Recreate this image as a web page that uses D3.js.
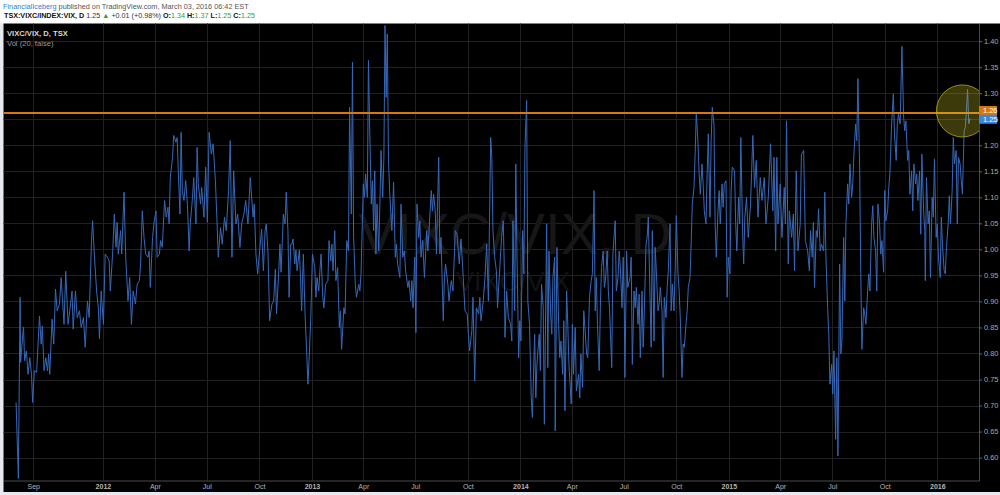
<!DOCTYPE html>
<html><head><meta charset="utf-8">
<script src="https://cdn.jsdelivr.net/npm/d3@7"></script>
<style>
html,body{margin:0;padding:0;background:#fff;}
svg{display:block;font-family:"Liberation Sans",Arial,sans-serif;}
</style>
</head><body>
<svg id="chart" width="1000" height="495"></svg>
<script>
// ---- DATA (day offsets counted from BASE_DATE, ratio value VIXC/VIX) ----
const BASE_DATE = "2012-01-01";
const ser2011 = [[-152,0.706],[-148,0.560],[-145,0.908],[-144,0.783],[-142,0.812],[-139,0.851],[-137,0.786],[-134,0.805],[-131,0.760],[-128,0.792],[-125,0.760],[-123,0.706],[-120,0.767],[-116,0.764],[-111,0.872],[-108,0.818],[-106,0.853],[-103,0.767],[-100,0.792],[-97,0.767],[-95,0.799],[-93,0.760],[-89,0.866],[-86,0.818],[-83,0.924],[-80,0.882],[-76,0.895],[-73,0.946],[-71,0.908],[-68,0.856],[-65,0.958],[-61,0.856],[-58,0.882],[-54,0.920],[-52,0.847],[-48,0.920],[-45,0.869],[-41,0.882],[-38,0.850],[-34,0.869],[-31,0.812],[-27,0.901],[-24,0.869],[-20,1.015],[-18,1.055],[-15,0.991],[-11,0.920],[-8,0.888],[-6,0.828],[-3,0.920]];
const ser2012 = [[1,0.856],[4,0.991],[8,0.985],[11,0.978],[13,0.920],[17,0.991],[20,1.068],[23,1.004],[25,1.052],[27,0.991],[31,1.036],[33,0.991],[37,1.110],[40,0.985],[44,0.901],[47,0.946],[50,0.856],[53,0.920],[57,0.895],[60,0.933],[64,0.940],[66,0.972],[69,1.074],[72,1.023],[75,0.991],[79,0.985],[81,0.997],[83,0.927],[87,1.023],[90,1.055],[93,1.074],[95,0.985],[99,0.991],[101,1.017],[104,1.004],[108,1.094],[111,1.062],[114,1.081],[116,1.049],[118,1.138],[122,1.177],[124,1.219],[128,1.206],[130,1.215],[132,1.151],[135,1.068],[137,1.225],[139,1.113],[142,1.094],[145,1.132],[148,1.087],[151,0.997],[153,1.049],[157,1.100],[159,1.138],[163,1.049],[165,1.196],[167,1.126],[171,1.087],[173,1.119],[177,1.062],[180,1.158],[183,1.052],[186,1.225],[190,1.183],[193,1.203],[197,1.132],[200,1.049],[202,0.985],[206,1.042],[209,1.010],[213,1.062],[216,1.036],[220,1.113],[223,1.209],[226,0.985],[229,1.151],[233,1.049],[236,1.068],[240,1.004],[243,1.049],[247,1.068],[250,1.094],[254,1.049],[258,1.138],[263,1.062],[265,1.087],[268,0.991],[271,0.953],[275,1.004],[278,1.039],[281,0.959],[284,1.036],[286,1.049],[289,0.997],[292,0.863],[296,0.895],[299,0.901],[302,0.962],[304,0.876],[308,0.959],[310,1.010],[312,0.956],[316,1.068],[319,1.049],[321,1.110],[324,1.036],[326,0.908],[329,1.010],[331,1.010],[333,1.020],[336,0.972],[338,0.999],[340,0.959],[344,0.999],[346,0.946],[348,0.882],[351,0.991],[354,0.876],[357,0.799],[359,0.741],[361,0.786],[364,0.869]];
const ser2013 = [[367,0.991],[371,0.965],[373,0.908],[375,0.946],[378,0.920],[380,0.959],[382,0.991],[385,0.908],[387,0.888],[390,0.933],[394,0.940],[396,1.017],[399,0.978],[401,1.010],[403,0.959],[406,1.036],[408,0.940],[411,0.965],[414,0.850],[416,0.882],[418,0.808],[422,0.888],[424,0.876],[427,1.017],[430,0.997],[432,1.273],[435,1.068],[437,1.360],[439,1.023],[442,0.933],[444,0.908],[448,0.933],[450,0.920],[452,0.953],[456,1.126],[458,1.100],[460,1.145],[463,1.100],[465,1.363],[467,1.241],[470,1.087],[472,1.132],[474,1.036],[476,1.151],[478,0.991],[480,1.087],[483,0.997],[485,1.087],[487,1.190],[490,1.100],[492,1.177],[494,1.430],[496,1.292],[498,1.414],[500,1.177],[502,1.113],[506,1.036],[509,1.129],[512,0.985],[514,1.010],[516,0.972],[520,0.946],[522,1.087],[525,0.985],[528,0.997],[530,0.959],[534,0.927],[536,0.940],[539,0.901],[541,0.940],[543,0.888],[546,0.985],[548,0.840],[550,1.087],[553,1.023],[555,1.055],[557,0.985],[560,1.017],[563,0.946],[567,1.036],[569,0.997],[571,1.036],[575,1.113],[577,1.074],[579,1.106],[582,1.074],[584,0.991],[588,1.177],[590,0.991],[592,1.023],[596,0.863],[598,0.946],[600,0.972],[604,0.933],[606,0.901],[610,0.940],[613,0.920],[617,1.036],[620,1.029],[624,0.972],[627,1.020],[631,0.946],[634,0.882],[638,0.876],[640,0.837],[642,0.805],[646,0.844],[648,0.908],[651,0.747],[654,0.888],[658,0.876],[660,0.908],[662,0.863],[666,0.901],[669,0.946],[672,1.010],[675,0.901],[679,1.215],[681,1.177],[683,1.036],[686,0.985],[689,0.959],[691,0.888],[694,0.946],[698,1.023],[701,1.055],[703,0.959],[704,0.831],[707,0.920],[710,0.869],[714,0.856],[716,0.824],[718,1.055],[721,0.882],[723,1.164],[725,0.991],[728,0.792],[730,0.863]];
const ser2014 = [[732,0.824],[735,1.036],[737,0.953],[739,1.196],[742,1.286],[744,0.901],[747,0.856],[750,0.715],[752,0.677],[756,0.837],[758,0.715],[760,0.779],[764,0.837],[766,0.767],[768,0.933],[771,0.888],[773,0.664],[777,1.049],[779,0.773],[781,0.997],[784,0.876],[786,0.837],[788,0.946],[791,0.985],[792,0.651],[795,1.004],[798,0.856],[800,0.792],[802,0.824],[805,0.760],[807,0.863],[809,0.690],[812,0.920],[814,0.856],[816,0.779],[820,0.703],[822,0.856],[824,0.760],[827,0.850],[829,0.728],[833,0.760],[835,0.715],[837,0.799],[840,0.735],[842,0.882],[844,0.850],[847,0.799],[849,0.792],[852,0.908],[855,0.940],[857,0.953],[860,1.113],[862,0.882],[864,0.946],[866,0.856],[869,0.767],[871,0.888],[873,0.965],[876,0.997],[878,0.927],[880,0.940],[883,0.997],[885,0.920],[887,0.888],[891,0.773],[893,0.991],[897,1.055],[899,0.920],[902,0.946],[904,0.997],[906,0.965],[909,0.888],[911,0.985],[913,0.882],[914,0.754],[917,0.997],[919,0.927],[923,0.946],[925,0.985],[927,0.779],[930,0.920],[932,0.888],[934,0.927],[937,0.856],[939,0.914],[941,0.792],[944,0.920],[946,0.812],[948,0.882],[951,1.010],[953,1.023],[955,1.062],[958,0.908],[960,0.812],[962,1.036],[965,0.824],[967,1.004],[969,0.959],[972,0.882],[974,0.895],[976,0.927],[979,0.882],[981,0.754],[983,0.908],[986,0.869],[988,0.927],[990,0.959],[993,1.049],[995,0.882],[997,0.933],[1000,0.882],[1002,0.959],[1004,1.065],[1007,0.953],[1009,0.920],[1011,0.869],[1014,0.754],[1016,0.818],[1018,0.812],[1021,0.856],[1023,0.882],[1025,0.927],[1028,0.946],[1030,1.010],[1032,1.087],[1035,1.119],[1037,1.183],[1039,1.263],[1042,1.203],[1044,1.145],[1046,1.106],[1049,1.164],[1051,1.126],[1053,1.074],[1056,1.049],[1058,1.145],[1060,1.222],[1063,1.062],[1065,1.209],[1067,1.273],[1070,1.241],[1072,1.049],[1074,0.985],[1077,1.074],[1079,1.113],[1081,1.049],[1084,1.126],[1086,1.081],[1088,1.126],[1091,1.132],[1093,0.908],[1095,0.985]];
const ser2015 = [[1098,0.953],[1100,1.113],[1102,1.158],[1106,1.151],[1108,1.049],[1110,0.997],[1113,1.100],[1115,1.049],[1117,1.215],[1120,1.036],[1122,0.972],[1124,1.062],[1127,1.100],[1130,1.023],[1134,1.087],[1138,1.219],[1141,1.119],[1144,1.171],[1147,1.062],[1151,1.138],[1154,1.094],[1158,1.138],[1161,1.049],[1165,1.100],[1169,1.203],[1173,1.074],[1175,1.177],[1178,0.997],[1180,1.177],[1182,1.049],[1186,1.126],[1189,1.023],[1193,1.119],[1195,1.049],[1197,1.247],[1200,0.972],[1202,1.074],[1206,1.023],[1209,1.068],[1211,0.959],[1214,1.151],[1217,0.997],[1221,1.049],[1223,1.183],[1227,1.190],[1230,1.017],[1234,0.997],[1237,0.959],[1239,1.036],[1242,0.985],[1244,1.052],[1246,0.927],[1249,1.036],[1251,1.023],[1253,1.078],[1256,0.997],[1258,1.010],[1262,0.997],[1264,1.110],[1266,0.985],[1269,0.888],[1271,0.837],[1273,0.741],[1276,0.779],[1278,0.722],[1280,0.805],[1283,0.635],[1285,0.792],[1287,0.603],[1290,0.972],[1292,0.799],[1294,0.824],[1297,1.023],[1299,0.901],[1301,1.049],[1304,1.126],[1306,1.087],[1308,1.164],[1311,1.100],[1313,1.126],[1315,1.183],[1318,1.241],[1320,1.209],[1322,1.328],[1325,1.158],[1327,0.953],[1329,0.808],[1332,0.888],[1334,0.876],[1336,0.856],[1339,0.920],[1341,0.953],[1343,0.920],[1346,1.049],[1348,1.084],[1350,1.023],[1353,0.997],[1355,0.920],[1357,1.087],[1360,1.049],[1362,0.991],[1364,1.017],[1367,0.956],[1369,1.113],[1371,1.055],[1374,1.074],[1376,1.119],[1378,1.145],[1381,1.241],[1384,1.299],[1386,1.222],[1389,1.171],[1391,1.241],[1393,1.260],[1396,1.241],[1399,1.390],[1402,1.254],[1404,1.228],[1406,1.247],[1409,1.171],[1411,1.190],[1413,1.106],[1416,1.151],[1418,1.074],[1420,1.164],[1423,1.126],[1425,1.145],[1427,1.094],[1430,1.151],[1432,1.029],[1434,1.183],[1437,1.074],[1439,1.036],[1440,0.940],[1442,1.138],[1445,1.049],[1447,1.074],[1449,0.946],[1452,1.100],[1454,1.062],[1456,1.174],[1459,1.023]];
const ser2016 = [[1461,1.049],[1463,0.985],[1466,0.946],[1468,1.062],[1470,1.010],[1473,0.959],[1475,0.953],[1477,1.004],[1480,1.049],[1482,1.103],[1484,1.049],[1487,1.113],[1489,1.215],[1491,1.164],[1494,1.190],[1496,1.049],[1498,1.177],[1501,1.164],[1503,1.132],[1505,1.106],[1508,1.228],[1510,1.234],[1512,1.267],[1514,1.308],[1516,1.241],[1518,1.251],[1519,1.250]];

const xDomain = ["2011-07-11", "2016-03-14"];
const yDomain = [0.556, 1.434];
const xTickDates  = ["2011-09-01","2012-01-01","2012-04-01","2012-07-01","2012-10-01","2013-01-01","2013-04-01","2013-07-01","2013-10-01","2014-01-01","2014-04-01","2014-07-01","2014-10-01","2015-01-01","2015-04-01","2015-07-01","2015-10-01","2016-01-01"];
const xTickLabels = ["Sep","2012","Apr","Jul","Oct","2013","Apr","Jul","Oct","2014","Apr","Jul","Oct","2015","Apr","Jul","Oct","2016"];
const yTicks = [0.60,0.65,0.70,0.75,0.80,0.85,0.90,0.95,1.00,1.05,1.10,1.15,1.20,1.25,1.30,1.35,1.40];
const hLineValue = 1.262, hLineLabel = "1.26";
const lastValue = 1.25, lastLabel = "1.25";
const circleCenter = [1505, 1.266];   // [day offset, value]
const circleRadiusValue = 0.05;

const headerAuthor = "FinancialIceberg";
const headerRest = " published on TradingView.com, March 03, 2016 06:42 EST";
const symbolTitle = "TSX:VIXC/INDEX:VIX, D";
const quote = {last:"1.25", chg:"+0.01 (+0.98%)", O:"1.34", H:"1.37", L:"1.25", C:"1.25"};
const legend1 = "VIXC/VIX, D, TSX", legend2 = "Vol (20, false)";
const watermark1 = "VIXC/VIX, D", watermark2 = "VIXC/VIX";

// ---- BUILD ----
const parse = d3.timeParse("%Y-%m-%d");
const base = parse(BASE_DATE);
const toDate = d => d3.timeDay.offset(base, d);
const series = [].concat(ser2011, ser2012, ser2013, ser2014, ser2015, ser2016)
  .map(([d, v]) => ({date: toDate(d), value: v}));

const svg = d3.select("#chart");
const W = 1000, H = 495;
const L = 3.5, T = 23.5, R = 979, B = 480.5;

const x = d3.scaleTime().domain(xDomain.map(parse)).range([L, R]);
const y = d3.scaleLinear().domain(yDomain).range([B, T]);

svg.append("rect").attr("width", W).attr("height", H).attr("fill", "#ffffff");
svg.append("rect").attr("x", 0).attr("y", T).attr("width", L).attr("height", H - T).attr("fill", "#e6e9ed");
svg.append("rect").attr("x", L).attr("y", T).attr("width", W - L).attr("height", 492 - T).attr("fill", "#000");
svg.append("rect").attr("x", 0).attr("y", 492).attr("width", W).attr("height", 3).attr("fill", "#e6e9ed");

// grid
const grid = svg.append("g").attr("stroke", "#212121").attr("stroke-width", 1);
grid.selectAll("line.h").data(yTicks).join("line")
  .attr("x1", L).attr("x2", R)
  .attr("y1", d => Math.round(y(d)) + 0.5).attr("y2", d => Math.round(y(d)) + 0.5);
grid.selectAll("line.v").data(xTickDates.map(parse)).join("line")
  .attr("y1", T).attr("y2", B)
  .attr("x1", d => Math.round(x(d)) + 0.5).attr("x2", d => Math.round(x(d)) + 0.5);

// watermark
const wmX = (x(parse("2013-06-15")) + x(parse("2014-07-01"))) / 2;
svg.append("text").attr("x", wmX).attr("y", 254).attr("text-anchor", "middle")
  .attr("font-size", 57).attr("fill", "#171717").text(watermark1);
svg.append("text").attr("x", wmX - 2).attr("y", 291).attr("text-anchor", "middle")
  .attr("font-size", 27).attr("fill", "#131313").text(watermark2);

// clip
svg.append("clipPath").attr("id", "plotclip").append("rect")
  .attr("x", L).attr("y", T).attr("width", R - L).attr("height", B - T);
const plot = svg.append("g").attr("clip-path", "url(#plotclip)");

// series line
plot.append("path").datum(series)
  .attr("fill", "none").attr("stroke", "#3768b8").attr("stroke-width", 1)
  .attr("stroke-linejoin", "round")
  .attr("d", d3.line().x(d => x(d.date)).y(d => y(d.value)));

// horizontal level
plot.append("line").attr("x1", L).attr("x2", R)
  .attr("y1", y(hLineValue)).attr("y2", y(hLineValue))
  .attr("stroke", "#d9780f").attr("stroke-width", 2);

// circle annotation
const cR = y(circleCenter[1] - circleRadiusValue) - y(circleCenter[1]);
plot.append("circle").attr("cx", x(toDate(circleCenter[0]))).attr("cy", y(circleCenter[1])).attr("r", cR)
  .attr("fill", "rgba(215,205,40,0.28)").attr("stroke", "rgba(190,180,30,0.75)").attr("stroke-width", 1);

// legend
svg.append("text").attr("x", 7).attr("y", 36).attr("font-size", 7.6).attr("font-weight", "bold")
  .attr("fill", "#d8d8d8").text(legend1);
svg.append("text").attr("x", 7).attr("y", 45.5).attr("font-size", 7.6)
  .attr("fill", "#9a9a9a").text(legend2);

// right axis
const yAxis = svg.append("g").attr("transform", `translate(${R},0)`)
  .call(d3.axisRight(y).tickValues(yTicks).tickFormat(d3.format(".2f")).tickSize(3).tickSizeOuter(0).tickPadding(2));
yAxis.select(".domain").attr("stroke", "#4a4a4a");
yAxis.selectAll(".tick line").attr("stroke", "#666");
yAxis.selectAll(".tick text").attr("fill", "#a8a8a8").attr("font-size", 7.4)
  .attr("font-family", "Liberation Sans, Arial, sans-serif");

// bottom axis
const xAxis = svg.append("g").attr("transform", `translate(0,${B})`)
  .call(d3.axisBottom(x).tickValues(xTickDates.map(parse)).tickFormat((d, i) => xTickLabels[i]).tickSize(0).tickSizeOuter(0).tickPadding(3.5));
xAxis.select(".domain").attr("stroke", "#4a4a4a");
xAxis.selectAll(".tick text").attr("fill", "#b5b5b5").attr("font-size", 7)
  .attr("font-family", "Liberation Sans, Arial, sans-serif")
  .attr("font-weight", (d, i) => /^\d{4}$/.test(xTickLabels[i]) ? "bold" : "normal");

// price labels on right axis
function priceTag(cy, label, fill) {
  svg.append("rect").attr("x", R).attr("y", cy - 4.5).attr("width", 18).attr("height", 9).attr("fill", fill);
  svg.append("text").attr("x", R + 4).attr("y", cy).attr("dy", "0.35em")
    .attr("font-size", 7.4).attr("fill", "#fff").text(label);
}
priceTag(y(hLineValue) - 2.5, hLineLabel, "#d9780f");
priceTag(y(lastValue), lastLabel, "#3b86dc");

// header
const h1 = svg.append("text").attr("x", 3).attr("y", 9).attr("font-size", 7.3);
h1.append("tspan").attr("fill", "#2f7fd1").text(headerAuthor);
h1.append("tspan").attr("fill", "#555").text(headerRest);

const h2 = svg.append("text").attr("x", 4).attr("y", 18.3).attr("font-size", 7.2).attr("fill", "#333");
h2.append("tspan").attr("font-weight", "bold").attr("fill", "#111").text(symbolTitle);
h2.append("tspan").text(" " + quote.last + " ");
h2.append("tspan").attr("fill", "#2aa52a").text("▲");
h2.append("tspan").text(" " + quote.chg + " ");
[["O:", quote.O], ["H:", quote.H], ["L:", quote.L], ["C:", quote.C]].forEach(([k, v], i) => {
  h2.append("tspan").attr("font-weight", "bold").attr("fill", "#111").text((i ? " " : "") + k);
  h2.append("tspan").attr("fill", "#2aa52a").text(v);
});
</script>
</body></html>
